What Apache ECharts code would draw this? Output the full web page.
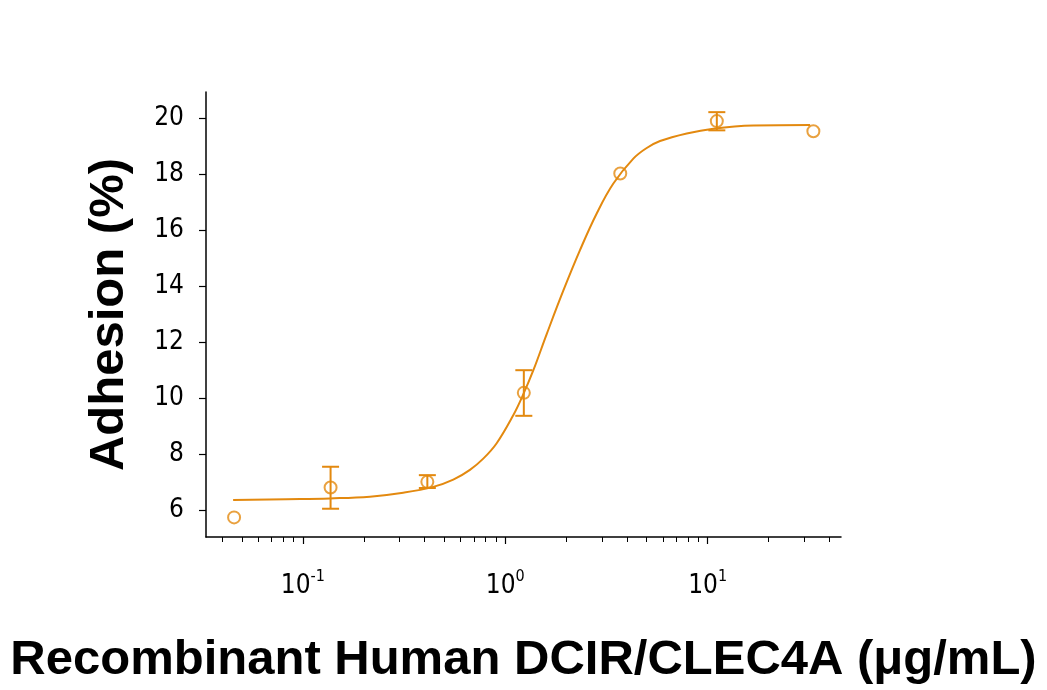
<!DOCTYPE html>
<html>
<head>
<meta charset="utf-8">
<script src="https://cdn.jsdelivr.net/npm/echarts@6/dist/echarts.min.js"></script>
<style>
  html, body { margin: 0; padding: 0; background: #fff; }
  #chart { width: 1047px; height: 690px; }
</style>
</head>
<body>
<div id="chart"></div>
<script>
// measured points (3-fold dilution series)
const concentrations = [0.0457, 0.137, 0.412, 1.235, 3.70, 11.1, 33.3]
const adhesion = [5.75, 6.82, 7.02, 10.2, 18.04, 19.91, 19.55]
const errLow = [5.75, 6.06, 6.80, 9.38, 18.04, 19.58, 19.55]
const errHigh = [5.75, 7.56, 7.26, 11.01, 18.04, 20.23, 19.55]

// fitted curve
const curveX = [0.0452, 0.0831, 0.136, 0.2144, 0.3131, 0.4405, 0.5534, 0.6689, 0.7785, 0.9068, 1.095, 1.219, 1.375, 1.602, 1.935, 2.340, 2.830, 3.420, 4.293, 5.000, 5.817, 7.884, 10.67, 16.83, 32.08]
const curveY = [6.37, 6.40, 6.43, 6.49, 6.63, 6.84, 7.10, 7.45, 7.85, 8.40, 9.40, 10.1, 11.0, 12.3, 13.85, 15.30, 16.61, 17.68, 18.57, 18.95, 19.2, 19.47, 19.64, 19.75, 19.77]

const yTicks = [6, 8, 10, 12, 14, 16, 18, 20]
const xMajorTicks = [0.1, 1, 10]
const xMinorTicks = [0.04, 0.05, 0.06, 0.07, 0.08, 0.09, 0.2, 0.3, 0.4, 0.5, 0.6, 0.7, 0.8, 0.9, 2, 3, 4, 5, 6, 7, 8, 9, 20, 30, 40]
const xLabels = { '0.1': '-1', '1': '0', '10': '1' }

const orange = '#e3890f'
const tickFont = "'Liberation Sans Narrow', 'DejaVu Sans Condensed', sans-serif"

const chart = echarts.init(document.getElementById('chart'))

const option = {
  animation: false,
  grid: { left: 206, right: 206, top: 92, bottom: 153 },
  xAxis: [
    {
      type: 'log',
      logBase: 10,
      min: 0.0332,
      max: 45.6,
      name: 'Recombinant Human DCIR/CLEC4A (\u03bcg/mL)',
      nameLocation: 'middle',
      nameGap: 99,
      nameTextStyle: { fontFamily: 'Liberation Sans, Arial, sans-serif', fontWeight: 'bold', fontSize: 49, color: '#000' },
      splitLine: { show: false },
      axisLine: { lineStyle: { color: '#000', width: 1.5 } },
      axisTick: { customValues: xMajorTicks, length: 7, lineStyle: { color: '#000', width: 1.2 } },
      axisLabel: {
        customValues: xMajorTicks,
        margin: 32,
        formatter: function (v) {
          const key = String(Math.round(v * 1000) / 1000)
          return '{b|10}{s|' + (xLabels[key] || '') + '}'
        },
        rich: {
          b: { fontFamily: tickFont, fontSize: 26, lineHeight: 30, verticalAlign: 'bottom', color: '#000' },
          s: { fontFamily: tickFont, fontSize: 16, lineHeight: 16, verticalAlign: 'top', color: '#000' }
        }
      }
    },
    {
      type: 'log',
      logBase: 10,
      min: 0.0332,
      max: 45.6,
      position: 'bottom',
      splitLine: { show: false },
      axisLine: { show: false },
      axisTick: { customValues: xMinorTicks, length: 5, lineStyle: { color: '#000', width: 1 } },
      axisLabel: { show: false }
    }
  ],
  yAxis: {
    type: 'value',
    min: 5.05,
    max: 20.95,
    name: 'Adhesion (%)',
    nameLocation: 'middle',
    nameGap: 72,
    nameTextStyle: { fontFamily: 'Liberation Sans, Arial, sans-serif', fontWeight: 'bold', fontSize: 49, color: '#000' },
    splitLine: { show: false },
    axisLine: { show: true, lineStyle: { color: '#000', width: 1.5 } },
    axisTick: { show: true, customValues: yTicks, length: 7, lineStyle: { color: '#000', width: 1.2 } },
    axisLabel: { customValues: yTicks, margin: 22, fontFamily: tickFont, fontSize: 26, color: '#000' }
  },
  series: [
    {
      name: 'fit',
      type: 'line',
      data: curveX.map((x, i) => [x, curveY[i]]),
      smooth: 0.4,
      showSymbol: false,
      lineStyle: { color: orange, width: 2 },
      z: 2
    },
    {
      name: 'error',
      type: 'custom',
      data: concentrations.map((x, i) => [x, errLow[i], errHigh[i]]),
      renderItem: function (params, api) {
        const lo = api.coord([api.value(0), api.value(1)])
        const hi = api.coord([api.value(0), api.value(2)])
        if (Math.abs(lo[1] - hi[1]) < 12) return null
        const w = 8.5
        const style = { stroke: orange, lineWidth: 2 }
        return {
          type: 'group',
          children: [
            { type: 'line', shape: { x1: lo[0], y1: lo[1], x2: hi[0], y2: hi[1] }, style: style },
            { type: 'line', shape: { x1: lo[0] - w, y1: lo[1], x2: lo[0] + w, y2: lo[1] }, style: style },
            { type: 'line', shape: { x1: hi[0] - w, y1: hi[1], x2: hi[0] + w, y2: hi[1] }, style: style }
          ]
        }
      },
      z: 3
    },
    {
      name: 'points',
      type: 'scatter',
      data: concentrations.map((x, i) => [x, adhesion[i]]),
      symbol: 'circle',
      symbolSize: 12,
      itemStyle: { color: 'rgba(0,0,0,0)', borderColor: orange, borderWidth: 2 },
      z: 4
    }
  ]
}

chart.setOption(option)
</script>
</body>
</html>
